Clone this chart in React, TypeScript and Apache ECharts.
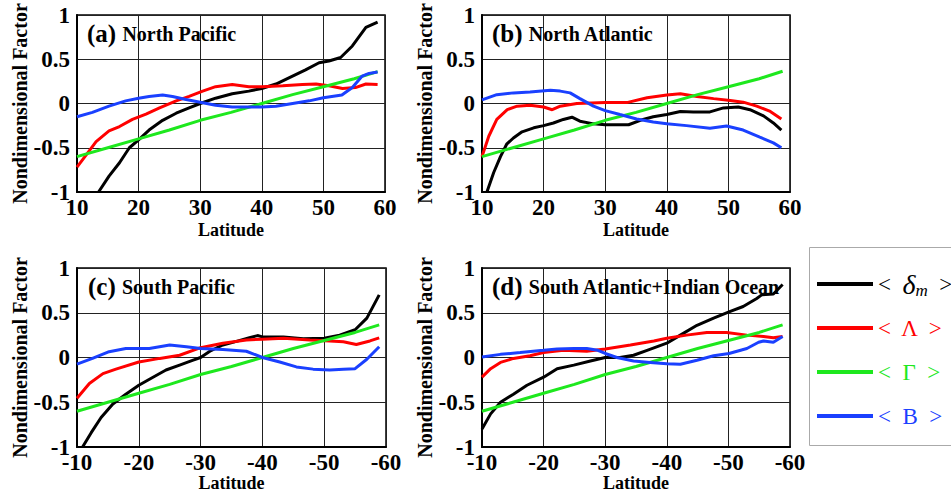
import React, { useEffect, useRef } from 'react';
import * as echarts from 'echarts';

const FONT = '"Liberation Serif", "Times New Roman", Times, serif';

const seriesNames = ['δm', 'Λ', 'Γ', 'B'];
const seriesColors = ['#000000', '#ff0000', '#1ee81e', '#1a40ff'];

const northRange = [10, 60];
const southRange = [-60, -10];
const yRange = [-1, 1];

// (a) North Pacific
const npDelta = [[13.5,-1.0],[15.2,-0.82],[16.9,-0.67],[18.5,-0.5],[20,-0.41],[21.7,-0.3],[23.9,-0.19],[26.1,-0.11],[28.2,-0.05],[30,0],[32.5,0.06],[35.2,0.11],[37.9,0.14],[40,0.17],[42.3,0.22],[44.4,0.29],[47.1,0.38],[49.3,0.46],[50.9,0.48],[52.8,0.52],[54.7,0.65],[56.9,0.86],[58.8,0.92]];
const npLambda = [[10,-0.72],[11.5,-0.58],[13.1,-0.43],[15.2,-0.31],[16.9,-0.26],[19,-0.18],[21.2,-0.12],[23.4,-0.05],[26.1,0.03],[28.2,0.08],[30.4,0.14],[32.5,0.19],[35.2,0.215],[37.9,0.19],[40,0.19],[43.4,0.2],[46.6,0.215],[48.8,0.22],[50.9,0.2],[53.1,0.17],[55.2,0.18],[56.9,0.22],[58.8,0.215]];
const npGamma = [[10,-0.6],[15,-0.5],[20,-0.4],[25,-0.3],[30,-0.19],[35,-0.1],[40,0],[45,0.1],[50,0.19],[55,0.28],[58.8,0.36]];
const npB = [[10,-0.15],[12.5,-0.1],[15.2,-0.03],[17.9,0.03],[20,0.06],[21.7,0.08],[23.9,0.095],[25.5,0.08],[27.7,0.045],[30,0.015],[32.5,-0.02],[35.2,-0.04],[37.9,-0.04],[40,-0.04],[42.3,-0.03],[45,0],[47.7,0.03],[50,0.065],[53,0.095],[54.7,0.18],[56.3,0.31],[57.4,0.34],[58.8,0.355]];

// (b) North Atlantic
const naDelta = [[10.8,-1.0],[11.9,-0.78],[13,-0.6],[14,-0.46],[15.1,-0.39],[16.5,-0.32],[18.4,-0.275],[20,-0.25],[21.6,-0.22],[23.2,-0.18],[24.6,-0.155],[25.9,-0.2],[28.1,-0.23],[30,-0.24],[33.8,-0.24],[35.7,-0.19],[37.8,-0.15],[40,-0.125],[42.2,-0.09],[44.3,-0.095],[47,-0.095],[49.2,-0.05],[51.6,-0.04],[53.5,-0.07],[55.7,-0.14],[57.3,-0.22],[58.6,-0.3]];
const naLambda = [[10,-0.6],[11.1,-0.37],[12.4,-0.18],[14.1,-0.07],[15.7,-0.03],[17.8,-0.02],[20,-0.04],[21.4,-0.07],[22.7,-0.03],[25.4,0],[30,0.01],[33.5,0.01],[36.8,0.065],[40,0.095],[42.2,0.11],[44.9,0.08],[47.6,0.055],[50.3,0.035],[52.4,0.015],[54.6,-0.03],[56.8,-0.09],[58.6,-0.175]];
const naGamma = [[10,-0.6],[15,-0.5],[20,-0.4],[25,-0.3],[30,-0.19],[35,-0.1],[40,0],[45,0.1],[50,0.19],[55,0.28],[58.8,0.365]];
const naB = [[10,0.04],[12.4,0.1],[15.1,0.12],[17.8,0.13],[21.1,0.15],[22.7,0.14],[24.3,0.12],[25.9,0.055],[28.1,-0.03],[30,-0.08],[32.4,-0.125],[35.1,-0.175],[37.8,-0.21],[40,-0.23],[43.2,-0.25],[47,-0.28],[49.7,-0.255],[52.4,-0.3],[55.1,-0.38],[57.3,-0.445],[58.6,-0.5]];

// (c) South Pacific
const spDelta = [[-10.9,-1.0],[-12.3,-0.84],[-13.9,-0.67],[-15.8,-0.52],[-17.9,-0.41],[-20,-0.31],[-22.3,-0.22],[-24.4,-0.14],[-26.6,-0.085],[-28.8,-0.03],[-30,0],[-31.5,0.07],[-33.6,0.14],[-35.8,0.18],[-37.9,0.22],[-39.2,0.245],[-40,0.23],[-43.4,0.23],[-46.6,0.21],[-50,0.215],[-52.5,0.25],[-55,0.31],[-56.9,0.44],[-58.9,0.7]];
const spLambda = [[-10,-0.455],[-12,-0.29],[-14.2,-0.18],[-16.3,-0.13],[-20,-0.05],[-23.4,-0.01],[-26.6,0.025],[-30,0.11],[-33.6,0.16],[-37.4,0.195],[-40,0.205],[-43.4,0.215],[-47.7,0.195],[-50.9,0.185],[-53.1,0.175],[-55.2,0.145],[-57.4,0.185],[-58.9,0.22]];
const spGamma = [[-10,-0.6],[-15,-0.5],[-20,-0.4],[-25,-0.3],[-30,-0.19],[-35,-0.1],[-40,0],[-45,0.1],[-50,0.19],[-55,0.28],[-58.9,0.365]];
const spB = [[-10,-0.075],[-12.5,-0.01],[-15.2,0.065],[-17.9,0.1],[-21.7,0.1],[-25,0.14],[-27.7,0.12],[-30,0.1],[-33.6,0.09],[-37.4,0.07],[-40,0],[-42.8,-0.05],[-45.5,-0.105],[-48.2,-0.13],[-50.9,-0.14],[-53.1,-0.13],[-55,-0.125],[-56.9,-0.02],[-58.9,0.12]];

// (d) South Atlantic + Indian Ocean
const siDelta = [[-10,-0.8],[-11.4,-0.63],[-13,-0.5],[-15.1,-0.41],[-17.3,-0.31],[-20,-0.22],[-22.2,-0.125],[-24.9,-0.085],[-27.6,-0.04],[-30,0],[-32.4,0],[-34.6,0.025],[-36.8,0.08],[-40,0.16],[-42.2,0.25],[-44.9,0.36],[-47.6,0.44],[-50.1,0.51],[-52.4,0.57],[-54.6,0.66],[-55.4,0.7],[-57.3,0.71],[-58.8,0.815]];
const siLambda = [[-10,-0.22],[-11.4,-0.125],[-13,-0.055],[-15.1,-0.01],[-17.8,0.02],[-20,0.055],[-23.2,0.08],[-27,0.07],[-30,0.095],[-34.1,0.14],[-37.9,0.185],[-40,0.215],[-43.2,0.25],[-46.5,0.28],[-49.7,0.28],[-53,0.25],[-55.7,0.235],[-57.3,0.22],[-58.8,0.235]];
const siGamma = [[-10,-0.6],[-15,-0.5],[-20,-0.4],[-25,-0.3],[-30,-0.19],[-35,-0.1],[-40,0],[-45,0.1],[-50,0.19],[-55,0.28],[-58.8,0.365]];
const siB = [[-10,0.005],[-13,0.035],[-16.2,0.055],[-20,0.08],[-22.2,0.095],[-24.9,0.1],[-27,0.1],[-28.8,0.08],[-30,0.045],[-31.9,0],[-34.6,-0.04],[-37.3,-0.055],[-40,-0.07],[-42.2,-0.075],[-44.9,-0.03],[-47.6,0.02],[-50.1,0.045],[-53,0.1],[-54.9,0.17],[-55.7,0.185],[-57.3,0.17],[-58.8,0.235]];

const panels = [
  { tag: '(a)', name: 'North Pacific', south: false, data: [npDelta, npLambda, npGamma, npB],
    grid: { left: 77, top: 15, width: 308, height: 177 }, tl: 87, tt: 21, xGap: 29 },
  { tag: '(b)', name: 'North Atlantic', south: false, data: [naDelta, naLambda, naGamma, naB],
    grid: { left: 482, top: 15, width: 308, height: 177 }, tl: 492, tt: 21, xGap: 29 },
  { tag: '(c)', name: 'South Pacific', south: true, data: [spDelta, spLambda, spGamma, spB],
    grid: { left: 77, top: 268, width: 309, height: 179 }, tl: 88, tt: 274, xGap: 26 },
  { tag: '(d)', name: 'South Atlantic+Indian Ocean', south: true, data: [siDelta, siLambda, siGamma, siB],
    grid: { left: 482, top: 268, width: 308, height: 179 }, tl: 492, tt: 274, xGap: 26 },
];

export default function App() {
  const ref = useRef<HTMLDivElement>(null);
  useEffect(() => {
    const chart = echarts.init(ref.current as HTMLDivElement, null, { renderer: 'svg' });
    const labelStyle = { fontFamily: FONT, fontWeight: 'bold' as const, fontSize: 23, color: '#000' };
    const option: any = {
      animation: false,
      backgroundColor: '#fff',
      title: panels.map((p) => ({
        text: `{p|${p.tag} }{n|${p.name}}`,
        left: p.tl,
        top: p.tt,
        padding: 0,
        z: 1,
        textStyle: {
          rich: {
            p: { fontFamily: FONT, fontWeight: 'bold', fontSize: 25, color: '#000' },
            n: { fontFamily: FONT, fontWeight: 'bold', fontSize: 20, color: '#000' },
          },
        },
      })),
      grid: panels.map((p) => ({ ...p.grid, show: true, borderColor: '#000', borderWidth: 1.5, backgroundColor: 'transparent' })),
      xAxis: panels.map((p, i) => ({
        type: 'value',
        gridIndex: i,
        min: p.south ? southRange[0] : northRange[0],
        max: p.south ? southRange[1] : northRange[1],
        interval: 10,
        inverse: p.south,
        axisLine: { show: true, onZero: false, lineStyle: { color: '#000', width: 2 } },
        axisTick: { show: false },
        splitLine: { show: true, lineStyle: { color: '#222', width: 1 } },
        axisLabel: { ...labelStyle, lineHeight: 16, margin: 7 },
        name: 'Latitude',
        nameLocation: 'middle',
        nameGap: p.xGap,
        nameTextStyle: { fontFamily: FONT, fontWeight: 'bold', fontSize: 18, color: '#000' },
      })),
      yAxis: panels.map((p, i) => ({
        type: 'value',
        gridIndex: i,
        min: yRange[0],
        max: yRange[1],
        interval: 0.5,
        axisLine: { show: true, onZero: false, lineStyle: { color: '#000', width: 2 } },
        axisTick: { show: false },
        splitLine: { show: true, lineStyle: { color: '#222', width: 1 } },
        axisLabel: { ...labelStyle, lineHeight: 14, margin: 7 },
        name: 'Nondimensional Factor',
        nameLocation: 'middle',
        nameRotate: 90,
        nameGap: 44,
        nameTextStyle: { fontFamily: FONT, fontWeight: 'bold', fontSize: 20, color: '#000' },
      })),
      legend: {
        orient: 'vertical',
        left: 817,
        top: 269,
        padding: 0,
        icon: 'rect',
        itemWidth: 56,
        itemHeight: 4,
        itemGap: 14,
        selectedMode: false,
        data: seriesNames.map((n, k) => ({ name: n, textStyle: { color: seriesColors[k] } })),
        textStyle: {
          fontFamily: FONT,
          fontSize: 23,
          lineHeight: 30,
          rich: {
            t: { fontFamily: FONT, fontSize: 23, lineHeight: 30, color: '#000' },
            d: { fontFamily: FONT, fontSize: 28, fontStyle: 'italic', lineHeight: 30, color: '#000' },
            m: { fontFamily: FONT, fontSize: 17, fontStyle: 'italic', lineHeight: 14, verticalAlign: 'bottom', color: '#000' },
          },
        },
        formatter: (name: string) => (name === 'δm' ? '{t|<  }{d|δ}{m|m}{t|  >}' : `<  ${name}  >`),
      },
      graphic: [
        {
          type: 'rect',
          shape: { x: 809.5, y: 247.5, width: 200, height: 198 },
          style: { fill: 'none', stroke: '#aaa', lineWidth: 1 },
          silent: true,
        },
      ],
      series: panels.flatMap((p, i) =>
        p.data.map((d, k) => ({
          type: 'line',
          name: seriesNames[k],
          xAxisIndex: i,
          yAxisIndex: i,
          data: d,
          showSymbol: false,
          symbol: 'none',
          silent: true,
          lineStyle: { width: 3, color: seriesColors[k] },
          itemStyle: { color: seriesColors[k] },
          emphasis: { disabled: true },
        }))
      ),
    };
    chart.setOption(option);
    return () => chart.dispose();
  }, []);
  return <div ref={ref} style={{ position: 'fixed', left: 0, top: 0, width: 951, height: 498, background: '#fff' }} />;
}
